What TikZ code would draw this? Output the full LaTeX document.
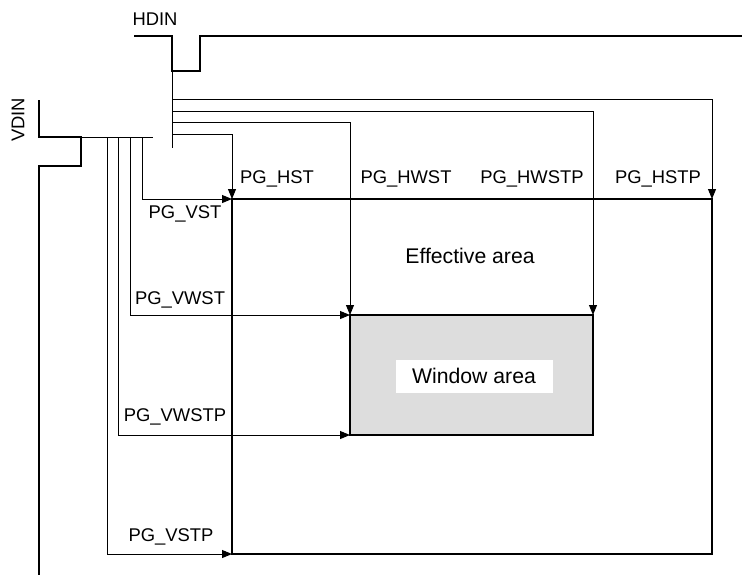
\documentclass[tikz,border=0pt]{standalone}
\usepackage{fontspec}
\setmainfont{Liberation Sans}
\usetikzlibrary{arrows.meta}
\definecolor{windowgray}{HTML}{DDDDDD}

\begin{document}
\begin{tikzpicture}[x=0.5pt, y=-0.5pt, every node/.style={font=\fontsize{9.2}{11}\selectfont, inner sep=0pt},
  sig/.style={line width=1pt},
  frame/.style={line width=1pt},
  tap/.style={line width=0.45pt},
  reg/.style={line width=0.45pt, -{Triangle[length=5pt,width=4pt]}},
  area/.style={font=\fontsize{10.6}{12}\selectfont}]
  \useasboundingbox (0,0) rectangle (742,575);
  % pulse corners and tap points
  \coordinate (hpulse) at (172,71);
  \coordinate (vpulse) at (81,137);
  \coordinate (htapend) at (172,148);
  \coordinate (vtapend) at (153,137);
  \coordinate (htap1) at (172,99);
  \coordinate (htap2) at (172,111);
  \coordinate (htap3) at (172,122);
  \coordinate (htap4) at (172,134);
  \coordinate (vtap1) at (142,137);
  \coordinate (vtap2) at (130,137);
  \coordinate (vtap3) at (118,137);
  \coordinate (vtap4) at (107,137);
  % areas
  \coordinate (eff-nw) at (232,199);
  \coordinate (eff-ne) at (712,199);
  \coordinate (eff-sw) at (232,554);
  \coordinate (eff-se) at (712,554);
  \coordinate (win-nw) at (350,315);
  \coordinate (win-ne) at (593,315);
  \coordinate (win-sw) at (350,435);
  \coordinate (win-se) at (593,435);

  \draw[frame, fill=windowgray] (win-nw) rectangle (win-se);
  \draw[frame] (eff-nw) rectangle (eff-se);

  % sync signals
  \draw[sig] (134,36) -| (hpulse) -| (200,36) -- (742,36);
  \draw[sig] (39,100) |- (vpulse) |- (39,166) -- (39,575);
  \node (hdin) at (155,19) {HDIN};
  \node[rotate=90] (vdin) at (18,120) {VDIN};

  \draw[tap] (hpulse) -- (htapend);
  \draw[tap] (vpulse) -- (vtapend);

  % horizontal registers
  \draw[reg] (htap1) -| (eff-ne);
  \draw[reg] (htap2) -| (win-ne);
  \draw[reg] (htap3) -| (win-nw);
  \draw[reg] (htap4) -| (eff-nw);
  % vertical registers
  \draw[reg] (vtap1) |- (eff-nw);
  \draw[reg] (vtap2) |- (win-nw);
  \draw[reg] (vtap3) |- (win-sw);
  \draw[reg] (vtap4) |- (eff-sw);

  \node (hst) at (277,179) {PG\_HST};
  \node (hwst) at (406,179) {PG\_HWST};
  \node (hwstp) at (532,179) {PG\_HWSTP};
  \node (hstp) at (658,179) {PG\_HSTP};
  \node (vst) at (185,214) {PG\_VST};
  \node (vwst) at (180,300) {PG\_VWST};
  \node (vwstp) at (175,417) {PG\_VWSTP};
  \node (vstp) at (171,537) {PG\_VSTP};
  \node[area] (effective) at (470,256) {Effective area};
  \node[area, fill=white, minimum width=78.5pt, minimum height=16.5pt] (window) at (474,376) {Window area};
\end{tikzpicture}
\end{document}
